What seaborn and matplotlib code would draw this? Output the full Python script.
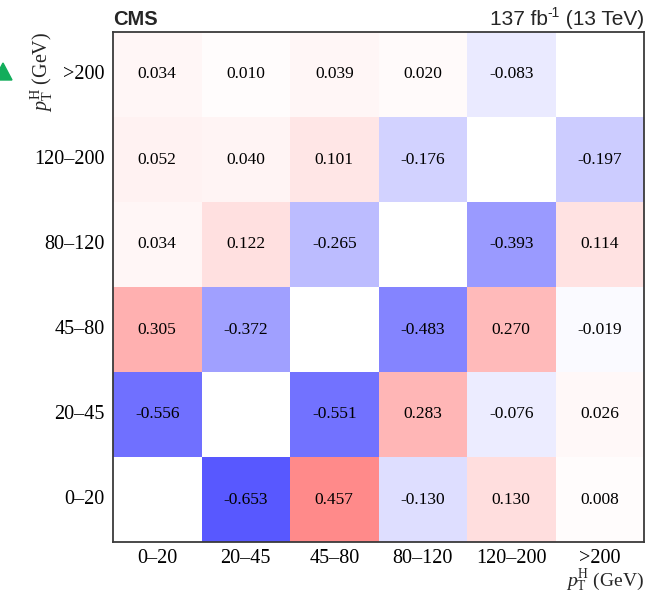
import numpy as np
import pandas as pd
import matplotlib
matplotlib.use("Agg")
import matplotlib.pyplot as plt
from matplotlib.colors import LinearSegmentedColormap
from matplotlib.patches import Polygon
import seaborn as sns

# pT^H bins (GeV)
bins = ["0\u201320", "20\u201345", "45\u201380", "80\u2013120", "120\u2013200", ">200"]

# Correlation values, one list per row bin (columns ordered as `bins`); diagonal left empty
row_0_20    = [np.nan, -0.653, 0.457, -0.130, 0.130, 0.008]
row_20_45   = [-0.556, np.nan, -0.551, 0.283, -0.076, 0.026]
row_45_80   = [0.305, -0.372, np.nan, -0.483, 0.270, -0.019]
row_80_120  = [0.034, 0.122, -0.265, np.nan, -0.393, 0.114]
row_120_200 = [0.052, 0.040, 0.101, -0.176, np.nan, -0.197]
row_gt200   = [0.034, 0.010, 0.039, 0.020, -0.083, np.nan]

rows = [row_0_20, row_20_45, row_45_80, row_80_120, row_120_200, row_gt200]
corr = pd.DataFrame(rows, index=bins, columns=bins).iloc[::-1]  # highest bin on top

sns.set_theme(style="white")
plt.rcParams["font.family"] = ["Liberation Serif", "DejaVu Serif"]
plt.rcParams["mathtext.fontset"] = "custom"
plt.rcParams["mathtext.rm"] = "Liberation Serif"
plt.rcParams["mathtext.it"] = "Liberation Serif:italic"

cmap = LinearSegmentedColormap.from_list("bwr_lin", ["#0000ff", "#ffffff", "#ff0000"])

W, H = 672, 595
fig = plt.figure(figsize=(W / 100, H / 100), dpi=100)
ax = fig.add_axes([113 / W, 53 / H, 531 / W, 510 / H])

sns.heatmap(corr, ax=ax, cmap=cmap, vmin=-1, vmax=1, cbar=False,
            annot=True, fmt=".3f", linewidths=0,
            annot_kws={"color": "black", "fontsize": 12.5})

for side in ["left", "right", "top", "bottom"]:
    ax.spines[side].set_visible(True)
    ax.spines[side].set_color("#3a3a3a")
    ax.spines[side].set_linewidth(1.3)

ax.tick_params(axis="both", length=0, labelsize=14.5, colors="black")
ax.tick_params(axis="y", pad=6)
ax.tick_params(axis="x", pad=5)
ax.set_yticklabels(corr.index, rotation=0)
ax.set_xticklabels(corr.columns, rotation=0)

ax.set_xlabel(r"$p_{\mathrm{T}}^{\mathrm{H}}$ (GeV)", fontsize=14, loc="right")
ax.xaxis.set_label_coords(1.0, -0.050)
ax.xaxis.label.set_va("top")
ax.set_ylabel(r"$p_{\mathrm{T}}^{\mathrm{H}}$ (GeV)", fontsize=14.5, loc="top")
ax.yaxis.set_label_coords(-0.110, 1.0)

# header: experiment tag and luminosity / energy
base_y = 1 - 25 / H
fig.text(113 / W, base_y, "CMS", fontsize=14.5, fontweight="bold",
         family="Liberation Sans", ha="left", va="baseline")

renderer = fig.canvas.get_renderer()
t_right = fig.text(644 / W, base_y, " (13 TeV)", fontsize=15,
                   family="Liberation Sans", ha="right", va="baseline")
x0 = t_right.get_window_extent(renderer).x0 / W
t_sup = fig.text(x0, base_y + 8 / H, "-1", fontsize=10,
                 family="Liberation Sans", ha="right", va="baseline")
x1 = t_sup.get_window_extent(renderer).x0 / W
fig.text(x1, base_y, "137 fb", fontsize=15,
         family="Liberation Sans", ha="right", va="baseline")

# small green marker at the left edge
fig.patches.append(Polygon([[-6 / W, 1 - 80 / H], [3 / W, 1 - 63 / H],
                            [12 / W, 1 - 80 / H]], closed=True,
                           transform=fig.transFigure, color="#12ad5b"))

fig.savefig("out.png", dpi=100)
